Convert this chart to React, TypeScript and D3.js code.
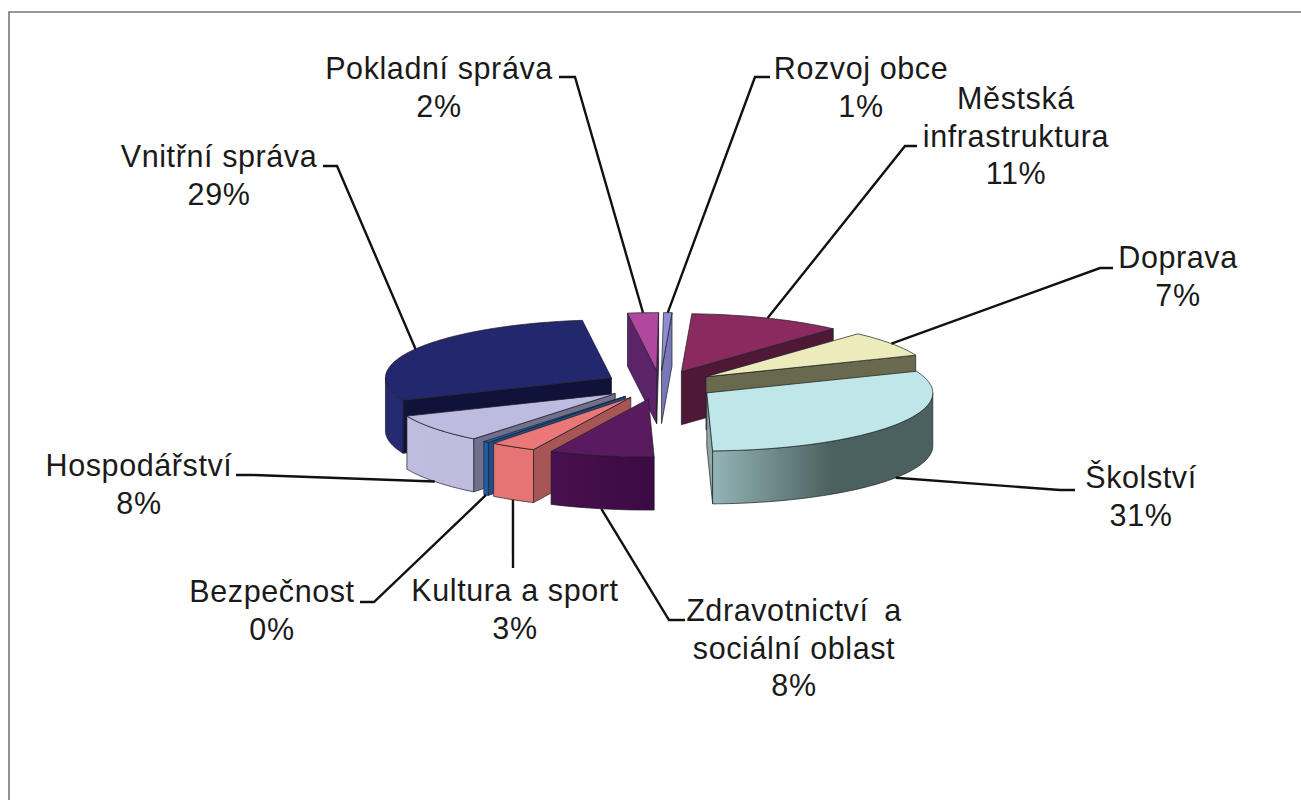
import React from "react";
import * as d3 from "d3";

const categories = ["Rozvoj obce", "Městská infrastruktura", "Doprava", "Školství", "Zdravotnictví a sociální oblast", "Kultura a sport", "Bezpečnost", "Hospodářství", "Vnitřní správa", "Pokladní správa"];
const values = [0.6, 11, 7.2, 30.7, 7.5, 3.3, 0.4, 7.9, 29.3, 2.2];
const percentLabels = ["1%", "11%", "7%", "31%", "8%", "3%", "0%", "8%", "29%", "2%"];
const labelLines = [["Rozvoj obce"], ["Městská", "infrastruktura"], ["Doprava"], ["Školství"], ["Zdravotnictví\u2009 a", "sociální oblast"], ["Kultura a sport"], ["Bezpečnost"], ["Hospodářství"], ["Vnitřní správa"], ["Pokladní správa"]];
const labelX = [861, 1016, 1178, 1141, 794, 515, 272, 139, 219, 439];
const labelY = [79, 109, 268, 488, 621, 601, 602, 476, 167, 79];
// leader: elbow start, elbow end
const leaderStart = [[770, 77], [917, 146], [1113, 268], [1075, 490], [685, 620], [513, 568], [360, 602], [236, 475], [323, 166], [559, 77]];
const leaderElbow = [[755, 77], [905, 146], [1100, 268], [1060, 490], [669, 620], [513, 568], [374, 602], [252, 475], [337, 166], [575, 77]];
const topColors = ["#8d8dcf", "#8a2a5e", "#ebebbb", "#bfe6e9", "#5a1a60", "#ea7878", "#2763ab", "#bebbe0", "#22276e", "#b0489f"];
const wallColors = ["#7878b8", "#4e1836", "#69694e", "#8fa8a8", "#5a1a5e", "#a85555", "#1d4d86", "#70708c", "#11123a", "#5c2468"];
const outerLeft = ["#7a7ac0", "#4e1836", "#69694e", "#98b8b9", "#581a5e", "#e87676", "#2060a8", "#bfbde0", "#252a72", "#5c2468"];
const outerRight = ["#7a7ac0", "#4e1836", "#69694e", "#4b6160", "#3c0a44", "#e06e6e", "#2060a8", "#b9b7da", "#1f2468", "#5c2468"];

const W = 1301, H = 800;
const cx = 660, cy = 385, rx = 226, ry = 58, depth = 53, explode = 56;
const rad = Math.PI / 180;
const frameX = 9, frameY = 12;
const fontSize = 30.5, lineGap = 37.5;

const pieGen = d3.pie<number>().sort(null).startAngle(0.5 * rad).endAngle(360.5 * rad);
const arcs = pieGen(values);

const lineGen = d3.line<[number, number]>().x(d => d[0]).y(d => d[1]);

function geom(i: number) {
  const a = arcs[i];
  const mid = (a.startAngle + a.endAngle) / 2;
  const ax = cx + explode * Math.sin(mid);
  const ay = cy - (explode * ry / rx) * Math.cos(mid);
  const pt = (t: number, dy = 0): [number, number] => [ax + rx * Math.sin(t), ay - ry * Math.cos(t) + dy];
  return { a, mid, ax, ay, pt };
}

function arcPoints(pt: (t: number, d?: number) => [number, number], t0: number, t1: number, dy = 0) {
  const n = Math.max(2, Math.ceil((t1 - t0) / (1.5 * rad)));
  return d3.range(n + 1).map(k => pt(t0 + ((t1 - t0) * k) / n, dy));
}

export default function App() {
  const order = d3.range(values.length).sort((p, q) => geom(p).ay - geom(q).ay);
  return (
    <svg width={W} height={H} style={{ position: "absolute", left: 0, top: 0, display: "block", background: "#fff" }}
      fontFamily="'Liberation Sans', Arial, sans-serif">
      <defs>
        {values.map((_, i) => {
          const g = geom(i);
          return (
            <linearGradient key={i} id={`outer${i}`} gradientUnits="userSpaceOnUse" x1={i === 3 ? g.ax : g.ax - rx} x2={i === 3 ? g.ax + 125 : (i === 4 ? g.ax : g.ax + rx)} y1={0} y2={0}>
              <stop offset="0" stopColor={outerLeft[i]} />
              <stop offset="1" stopColor={outerRight[i]} />
            </linearGradient>
          );
        })}
      </defs>
      <path d={`M${frameX},${H}V${frameY}H${W}`} fill="none" stroke="#777" strokeWidth={1.6} />
      {order.map(i => {
        const { a, ax, ay, pt } = geom(i);
        const walls: [number, number][][] = [];
        const s = pt(a.startAngle), e = pt(a.endAngle);
        if (Math.sin(a.startAngle) < 0) walls.push([[ax, ay], s, [s[0], s[1] + depth], [ax, ay + depth]]);
        if (Math.sin(a.endAngle) > 0) walls.push([[ax, ay], e, [e[0], e[1] + depth], [ax, ay + depth]]);
        const f0 = Math.max(a.startAngle, 90 * rad), f1 = Math.min(a.endAngle, 270 * rad);
        const outer = f1 > f0 ? [...arcPoints(pt, f0, f1), ...arcPoints(pt, f0, f1, depth).reverse()] : null;
        const top: [number, number][] = [[ax, ay], ...arcPoints(pt, a.startAngle, a.endAngle)];
        return (
          <g key={i} stroke="#1c1c24" strokeWidth={0.7} strokeLinejoin="round">
            {walls.map((w, k) => <path key={k} d={lineGen(w) + "Z"} fill={wallColors[i]} />)}
            {outer && <path d={lineGen(outer) + "Z"} fill={`url(#outer${i})`} />}
            <path d={lineGen(top) + "Z"} fill={topColors[i]} />
          </g>
        );
      })}
      {values.map((_, i) => {
        const { mid, pt } = geom(i);
        const anchor = pt(mid, Math.cos(mid) < 0 ? depth : 0);
        const pts: [number, number][] = [leaderStart[i] as [number, number], leaderElbow[i] as [number, number], anchor];
        return <path key={i} d={lineGen(pts)!} fill="none" stroke="#111" strokeWidth={2.4} />;
      })}
      {categories.map((c, i) => {
        const lines = [...labelLines[i], percentLabels[i]];
        return (
          <text key={c} fontSize={fontSize} letterSpacing={0.6} fill="#1a1a1a" textAnchor="middle">
            {lines.map((l, k) => <tspan key={k} x={labelX[i]} y={labelY[i] + k * lineGap}>{l}</tspan>)}
          </text>
        );
      })}
    </svg>
  );
}
